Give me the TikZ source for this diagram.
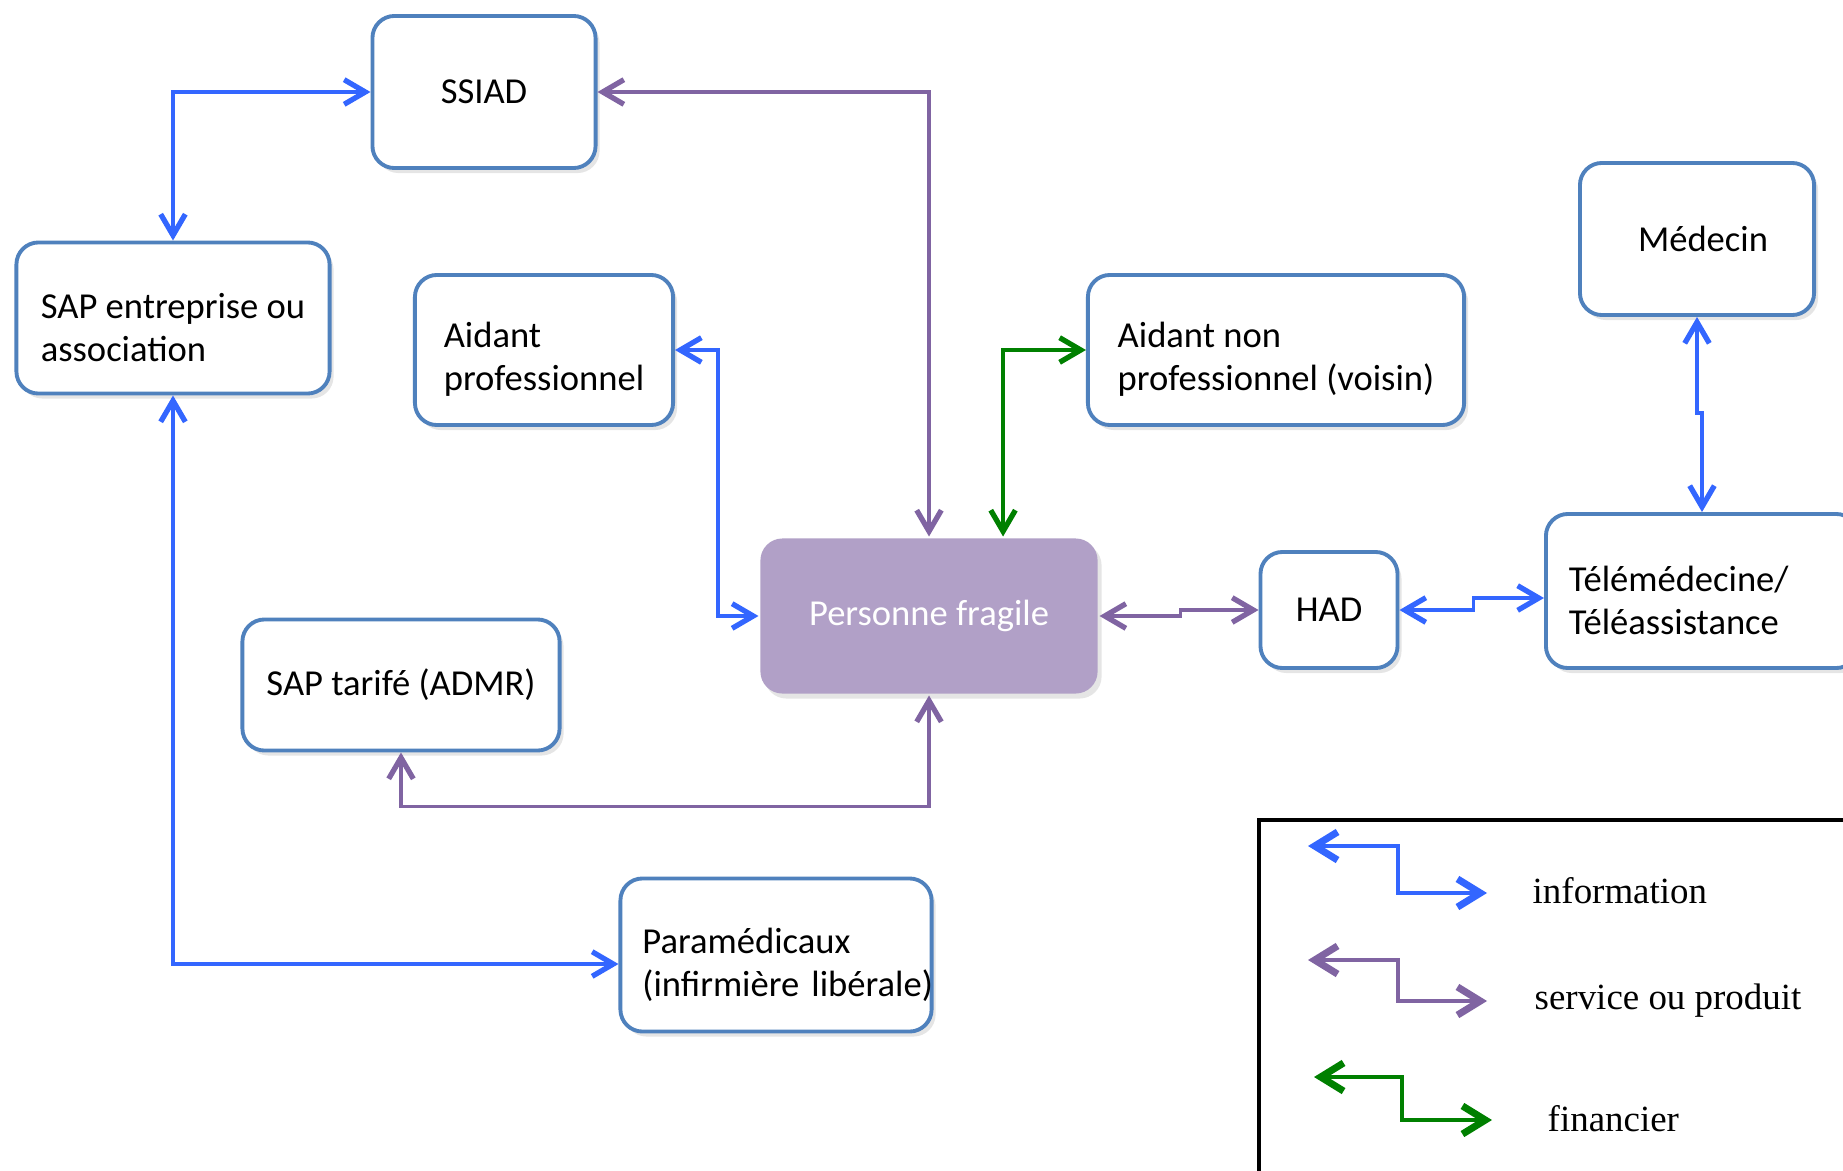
\documentclass[tikz,border=0pt]{standalone}
\usepackage{fontspec}
\setmainfont{Carlito}
\newfontfamily\legfont{Liberation Serif}
\usetikzlibrary{arrows.meta,shadows}
\definecolor{boxblue}{RGB}{79,129,189}
\definecolor{infoblue}{RGB}{51,102,255}
\definecolor{servpurple}{RGB}{128,100,162}
\definecolor{fingreen}{RGB}{0,128,0}
\definecolor{pffill}{RGB}{177,160,199}
\newcommand\boxstrut{\rule{0pt}{12.6pt}}
\begin{document}
\begin{tikzpicture}[x=0.01cm, y=-0.01cm,
	>={Straight Barb[length=6pt,width=7pt,line width=1.5pt]},
	bnode/.style={draw=boxblue, line width=1.1pt, rounded corners=0.22cm, fill=white, align=left,
		font=\fontsize{10.4}{12.3}\selectfont,
		drop shadow={shadow xshift=0.04cm, shadow yshift=-0.05cm, opacity=0.2}},
	pnode/.style={bnode, draw=none, fill=pffill, text=white},
	info/.style={draw=infoblue, line width=1pt, <->},
	serv/.style={draw=servpurple, line width=1pt, <->},
	fin/.style={draw=fingreen, line width=1pt, <->},
	legarrow/.style={line width=1.1pt, >={Straight Barb[length=6.5pt,width=8pt,line width=2pt]}},
	legtext/.style={anchor=west, inner sep=0pt, font=\legfont\fontsize{10.5}{13}\selectfont}]
	\path[use as bounding box, clip] (0,0) rectangle (1843,1170);
	\fill[white] (0,0) rectangle (1843,1170);
	\node[bnode, minimum width=2.23cm, minimum height=1.52cm] (ssiad) at (484,92) {SSIAD};
	\node[bnode, minimum width=3.13cm, minimum height=1.51cm] (sapent) at (173,318) {\boxstrut SAP entreprise ou\\association};
	\node[bnode, minimum width=2.58cm, minimum height=1.50cm] (aidpro) at (544,350) {\boxstrut Aidant\\professionnel};
	\node[bnode, minimum width=3.76cm, minimum height=1.50cm] (aidnon) at (1276,350) {\boxstrut Aidant non\\professionnel (voisin)};
	\node[bnode, minimum width=2.34cm, minimum height=1.52cm] (medecin) at (1697,239) {\hspace{0.12cm}Médecin};
	\node[pnode, minimum width=3.37cm, minimum height=1.55cm] (pf) at (929,616) {Personne fragile};
	\node[bnode, minimum width=1.37cm, minimum height=1.16cm] (had) at (1329,610) {HAD};
	\node[bnode, text width=2.66cm, inner xsep=0.23cm, minimum height=1.54cm] (tele) at (1702,591) {\boxstrut Télémédecine/\\Téléassistance};
	\node[bnode, minimum width=3.17cm, minimum height=1.31cm] (saptar) at (401,685) {SAP tarifé (ADMR)};
	\node[bnode, text width=2.67cm, inner xsep=0.22cm, minimum height=1.53cm] (para) at (776,955) {\boxstrut Paramédicaux\\\mbox{(infirmière libérale)}};
	\draw[info] (sapent.north) |- (ssiad.west);
	\draw[serv] (ssiad.east) -| (pf.north);
	\draw[info] (aidpro.east) -- ++(43,0) |- (pf.west);
	\draw[fin] (aidnon.west) -| ([xshift=0.74cm]pf.north);
	\draw[serv] (pf.east) -- ++(81,0) |- (had.west);
	\draw[info] (had.east) -- ++(74,0) |- ([yshift=-0.07cm]tele.west);
	\draw[info] (medecin.south) -- ++(0,96) -| (tele.north);
	\draw[serv] (saptar.south) -- ++(0,54) -| (pf.south);
	\draw[info] (sapent.south) |- ([yshift=-0.09cm]para.west);
	\draw[black, line width=1pt, fill=white, drop shadow={shadow xshift=0.04cm, shadow yshift=-0.05cm, opacity=0.2}] (1259,820) rectangle (1870,1190);
	\coordinate (infoL) at (1308,846);
	\coordinate (infoR) at (1487,893);
	\coordinate (servL) at (1308,960);
	\coordinate (servR) at (1487,1001);
	\coordinate (finL) at (1314,1077);
	\coordinate (finR) at (1492,1120);
	\draw[info, legarrow] (infoL) -- ++(90,0) |- (infoR);
	\draw[serv, legarrow] (servL) -- ++(90,0) |- (servR);
	\draw[fin, legarrow] (finL) -- ++(88,0) |- (finR);
	\node[legtext] (infotxt) at (1532,891) {information};
	\node[legtext] (servtxt) at (1534,1001) {service ou produit};
	\node[legtext] (fintxt) at (1547,1119) {financier};
\end{tikzpicture}
\end{document}
